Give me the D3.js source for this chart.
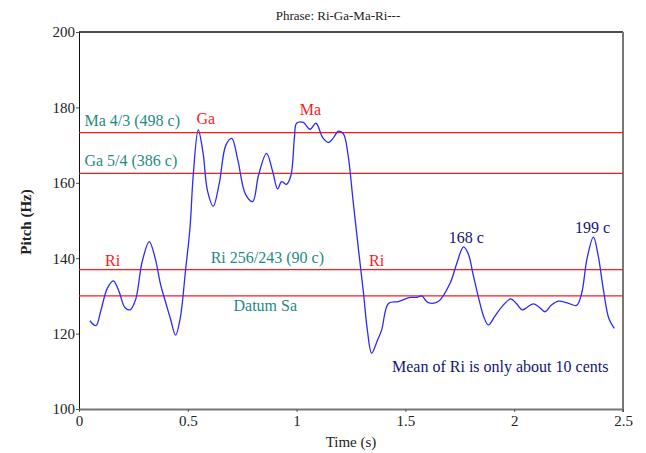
<!DOCTYPE html>
<html>
<head>
<meta charset="utf-8">
<script src="https://cdn.jsdelivr.net/npm/d3@7"></script>
<style>
  html, body { margin: 0; padding: 0; background: #fff; }
  svg text { font-family: "Liberation Serif", "Times New Roman", Tinos, "DejaVu Serif", "Noto Serif", Times, serif !important; }
</style>
</head>
<body>
<svg id="chart" width="646" height="453"></svg>
<script>
// Pitch contour of the phrase (time in seconds, pitch in Hz)
const times = [
  0.050, 0.078, 0.100, 0.130, 0.158, 0.185, 0.210, 0.234, 0.260, 0.290,
  0.323, 0.350, 0.375, 0.395, 0.420, 0.444, 0.465, 0.490, 0.510, 0.525,
  0.548, 0.570, 0.590, 0.617, 0.645, 0.675, 0.702, 0.730, 0.765, 0.798,
  0.825, 0.862, 0.890, 0.913, 0.931, 0.954, 0.974, 0.990, 1.000, 1.031,
  1.062, 1.089, 1.120, 1.146, 1.170, 1.192, 1.215, 1.235, 1.260, 1.285,
  1.307, 1.325, 1.345, 1.370, 1.391, 1.422, 1.467, 1.521, 1.552, 1.575,
  1.605, 1.651, 1.705, 1.736, 1.767, 1.790, 1.810, 1.835, 1.860, 1.881,
  1.910, 1.943, 1.984, 2.010, 2.037, 2.060, 2.088, 2.115, 2.142, 2.170,
  2.203, 2.250, 2.287, 2.310, 2.335, 2.364, 2.385, 2.410, 2.435, 2.460
];
const pitches = [
  123.4, 122.1, 126.0, 132.0, 134.0, 131.0, 127.0, 126.3, 129.0, 139.0,
  144.4, 140.0, 133.0, 128.9, 124.0, 119.6, 124.0, 137.0, 148.0, 162.0,
  174.0, 168.0, 158.0, 153.8, 160.0, 170.0, 171.8, 166.0, 157.0, 155.0,
  162.0, 167.8, 163.0, 158.4, 160.3, 159.6, 162.0, 172.0, 175.8, 176.0,
  174.2, 175.8, 172.0, 170.7, 172.0, 173.7, 173.0, 168.0, 155.0, 142.0,
  131.0, 121.0, 114.8, 118.0, 121.0, 128.0, 128.5, 129.6, 129.6, 130.0,
  128.2, 128.5, 133.3, 138.6, 143.0, 141.0, 136.0, 129.8, 124.5, 122.3,
  124.5, 127.1, 129.2, 128.0, 126.3, 127.0, 127.9, 127.0, 125.8, 127.5,
  128.6, 128.0, 127.5, 130.7, 140.0, 145.6, 141.0, 131.6, 124.0, 121.4
];

// Tonic and just-intonation reference ratios
const sa = 130;
const refNames  = ["Ma 4/3 (498 c)", "Ga 5/4 (386 c)", "Ri 256/243 (90 c)", "Datum Sa"];
const refRatios = [4 / 3, 5 / 4, 256 / 243, 1];

// Axis ticks
const xTicks = [0, 0.5, 1, 1.5, 2, 2.5];
const yTicks = [100, 120, 140, 160, 180, 200];

// Swara labels above the contour, and cent readings of the Ri peaks
const swaraNames = ["Ri", "Ga", "Ma", "Ri"];
const swaraTimes = [0.12, 0.54, 1.015, 1.333];
const swaraHz    = [138, 175.5, 178, 138];
const peakCents  = [168, 199];
const peakTimes  = [1.78, 2.36];

const svg = d3.select("#chart");
const x = d3.scaleLinear().domain([0, 2.5]).range([79, 623]);
const y = d3.scaleLinear().domain([100, 200]).range([409, 32]);

const teal = "#1f8a84", red = "#ff1a1a", navy = "#141472", blue = "#2a2aff";

// Title
svg.append("text").attr("x", 338).attr("y", 20).attr("text-anchor", "middle")
  .attr("font-size", 13).attr("fill", "#222").text("Phrase: Ri-Ga-Ma-Ri---");

// Frame: top and right edges
svg.append("line").attr("x1", x(0)).attr("x2", x(2.5)).attr("y1", y(200)).attr("y2", y(200))
  .attr("stroke", "#111").attr("stroke-width", 1.4);
svg.append("line").attr("x1", x(2.5)).attr("x2", x(2.5)).attr("y1", y(200)).attr("y2", y(100) + 3)
  .attr("stroke", "#777").attr("stroke-width", 2);

// Axes
const yAxis = svg.append("g").attr("transform", `translate(${x(0)},0)`)
  .call(d3.axisLeft(y).tickValues(yTicks).tickSize(3).tickSizeOuter(0).tickFormat(d3.format("d")));
yAxis.select(".domain").attr("stroke", "#111");
yAxis.selectAll(".tick line").attr("stroke", "#555");
yAxis.selectAll("text").attr("font-size", 15).attr("fill", "#222").attr("x", -4);

const xAxis = svg.append("g").attr("transform", `translate(0,${y(100)})`)
  .call(d3.axisBottom(x).tickValues(xTicks).tickSize(3).tickSizeOuter(0).tickFormat(d3.format("")));
xAxis.select(".domain").attr("stroke", "#777").attr("stroke-width", 2);
xAxis.selectAll(".tick line").attr("stroke", "#555");
xAxis.selectAll("text").attr("font-size", 15).attr("fill", "#222").attr("y", 6);

// Axis titles
svg.append("text").attr("x", 351).attr("y", 447).attr("text-anchor", "middle")
  .attr("font-size", 15).attr("fill", "#222").text("Time (s)");
svg.append("text").attr("transform", "translate(31,222) rotate(-90)").attr("text-anchor", "middle")
  .attr("font-size", 15).attr("font-weight", "bold").attr("fill", "#222").text("Pitch (Hz)");

// Reference pitch lines
const refHz = refRatios.map(r => sa * r);
svg.append("g").selectAll("line").data(refHz).join("line")
  .attr("x1", x(0)).attr("x2", x(2.5))
  .attr("y1", d => y(d)).attr("y2", d => y(d))
  .attr("stroke", red).attr("stroke-width", 1.3);

// Reference labels
const refLabelT  = [0.025, 0.025, 0.605, 0.71];
const refLabelDy = [-7, -7, -7, 15];
svg.append("g").selectAll("text").data(refNames).join("text")
  .attr("x", (d, i) => x(refLabelT[i]))
  .attr("y", (d, i) => y(refHz[i]) + refLabelDy[i])
  .attr("font-size", 16).attr("fill", teal).text(d => d);

// Pitch contour
const pts = times.map((t, i) => [t, pitches[i]]);
svg.append("path").datum(pts)
  .attr("fill", "none").attr("stroke", blue).attr("stroke-width", 1.3)
  .attr("d", d3.line().x(d => x(d[0])).y(d => y(d[1])).curve(d3.curveCatmullRom.alpha(0.5)));

// Swara labels
svg.append("g").selectAll("text").data(swaraNames).join("text")
  .attr("x", (d, i) => x(swaraTimes[i])).attr("y", (d, i) => y(swaraHz[i]))
  .attr("font-size", 16).attr("fill", red).text(d => d);

// Cent readings at the Ri peaks
svg.append("g").selectAll("text").data(peakCents).join("text")
  .attr("x", (d, i) => x(peakTimes[i])).attr("y", (d, i) => y(sa * Math.pow(2, d / 1200)) - 3)
  .attr("text-anchor", "middle")
  .attr("font-size", 16).attr("fill", navy).text(d => d + " c");

svg.append("text").attr("x", 392).attr("y", 372)
  .attr("font-size", 16).attr("fill", navy).text("Mean of Ri is only about 10 cents");
</script>
</body>
</html>
